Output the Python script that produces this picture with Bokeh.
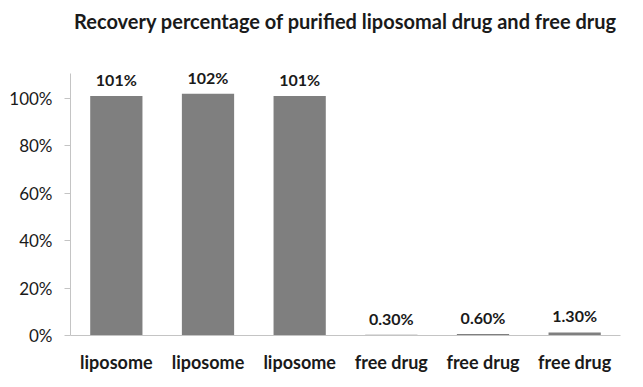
from bokeh.plotting import figure
from bokeh.models import (Range1d, FixedTicker, PrintfTickFormatter, LabelSet,
                          Label, ColumnDataSource)
from bokeh.core.properties import value
from bokeh.embed import file_html
from bokeh.resources import INLINE

# ---- data ----
categories = ["liposome", "liposome", "liposome", "free drug", "free drug", "free drug"]
recovery = [101, 102, 101, 0.3, 0.6, 1.3]
value_labels = ["101%", "102%", "101%", "0.30%", "0.60%", "1.30%"]
y_ticks = [0, 20, 40, 60, 80, 100]
title_text = "Recovery percentage of purified liposomal drug and free drug"

FONT = "Lato"
BAR = "#7f7f7f"
AXIS = "#c4c4c4"
TXT = "#1a1a1a"

xpos = [i + 0.5 for i in range(len(categories))]
src = ColumnDataSource(dict(x=xpos, top=recovery, lab=value_labels))

p = figure(width=627, height=379, output_backend="svg", toolbar_location=None,
           x_range=Range1d(0, len(categories)), y_range=Range1d(0, 141.3),
           min_border_left=70, min_border_right=7, min_border_top=0,
           min_border_bottom=44)
p.outline_line_color = None
p.xgrid.grid_line_color = None
p.ygrid.grid_line_color = None
p.background_fill_color = "white"
p.border_fill_color = "white"

p.vbar(x="x", top="top", bottom=0, width=0.57, source=src,
       fill_color=BAR, line_color=None)

# value labels
p.add_layout(LabelSet(x="x", y="top", text="lab", source=src,
                      text_align="center", text_baseline="bottom", y_offset=7,
                      text_font=value(FONT), text_font_style="bold",
                      text_font_size="16px", text_color=TXT))

# title
p.add_layout(Label(x=3.0, y=132.5, text=title_text, text_align="center",
                   text_baseline="middle", text_font=FONT,
                   text_font_style="bold", text_font_size="20px",
                   text_color=TXT))

# y axis
p.yaxis.ticker = FixedTicker(ticks=y_ticks)
p.yaxis.formatter = PrintfTickFormatter(format="%d%%")
p.yaxis.bounds = (0, 110.5)
p.yaxis.axis_line_color = AXIS
p.yaxis.major_tick_line_color = AXIS
p.yaxis.major_tick_out = 6
p.yaxis.major_tick_in = 0
p.yaxis.minor_tick_line_color = None
p.yaxis.major_label_standoff = 12
p.yaxis.major_label_text_font = FONT
p.yaxis.major_label_text_font_size = "17px"
p.yaxis.major_label_text_color = TXT

# x axis
p.xaxis.ticker = FixedTicker(ticks=xpos)
p.xaxis.major_label_overrides = {x: c for x, c in zip(xpos, categories)}
p.xaxis.axis_line_color = AXIS
p.xaxis.major_tick_line_color = None
p.xaxis.major_tick_out = 0
p.xaxis.minor_tick_line_color = None
p.xaxis.major_label_standoff = 15
p.xaxis.major_label_text_font = FONT
p.xaxis.major_label_text_font_style = "bold"
p.xaxis.major_label_text_font_size = "18px"
p.xaxis.major_label_text_color = TXT

open("out.html", "w").write(file_html(p, INLINE))
